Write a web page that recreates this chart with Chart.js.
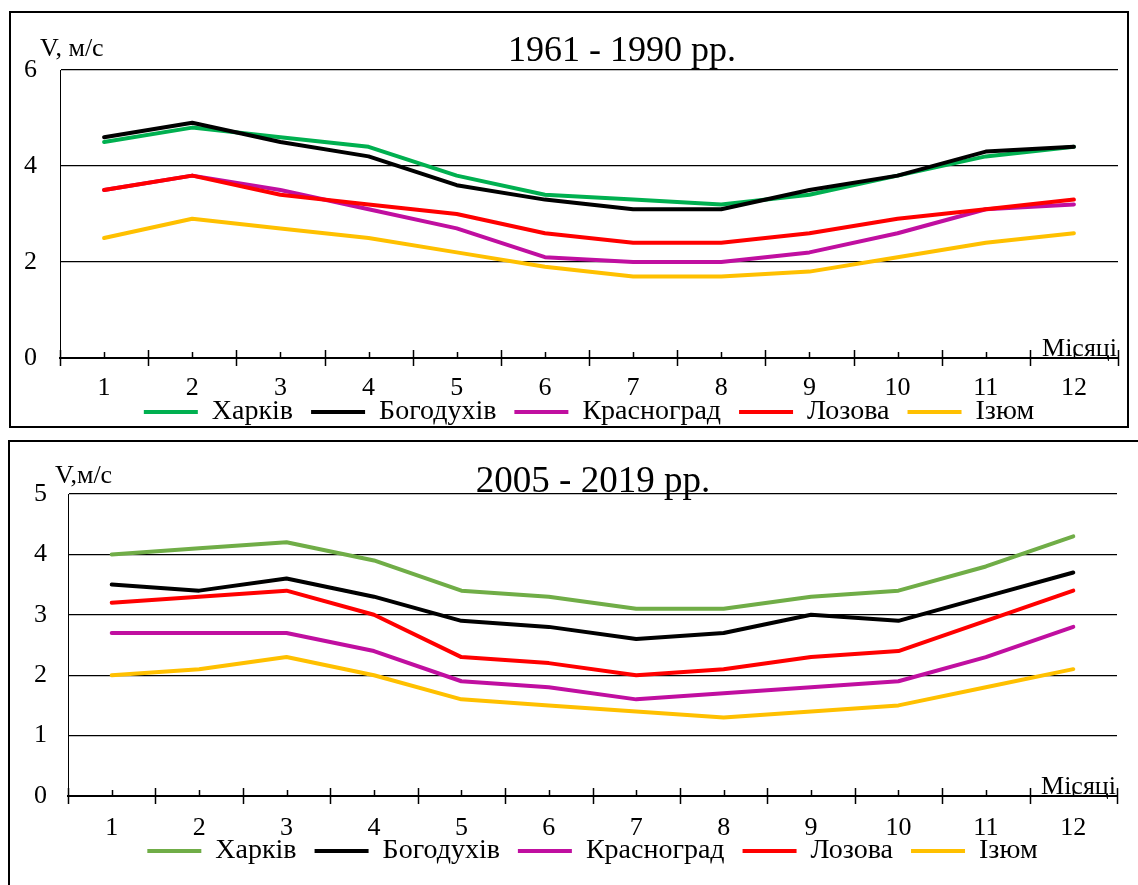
<!DOCTYPE html>
<html>
<head>
<meta charset="utf-8">
<script src="https://cdn.jsdelivr.net/npm/chart.js@4.4.1/dist/chart.umd.min.js"></script>
<style>
html, body { margin: 0; padding: 0; background: #fff; overflow: hidden; width: 1138px; height: 885px; }
.frame { position: absolute; border: 2px solid #000; box-sizing: border-box; }
.box { position: absolute; left: 0; width: 1138px; }
</style>
</head>
<body>
<div class="frame" style="left:9px;top:11px;width:1120px;height:417px"></div>
<div class="frame" style="left:8px;top:440px;width:1140px;height:460px"></div>
<div class="box" style="top:0;height:436px"><canvas id="chartTop"></canvas></div>
<div class="box" style="top:436px;height:449px"><canvas id="chartBottom"></canvas></div>
<script>
const months = ['1', '2', '3', '4', '5', '6', '7', '8', '9', '10', '11', '12'];
const stations = ['Харків', 'Богодухів', 'Красноград', 'Лозова', 'Ізюм'];

// 1961 - 1990
const kharkiv1 = [4.5, 4.8, 4.6, 4.4, 3.8, 3.4, 3.3, 3.2, 3.4, 3.8, 4.2, 4.4];
const bohodukhiv1 = [4.6, 4.9, 4.5, 4.2, 3.6, 3.3, 3.1, 3.1, 3.5, 3.8, 4.3, 4.4];
const krasnohrad1 = [3.5, 3.8, 3.5, 3.1, 2.7, 2.1, 2.0, 2.0, 2.2, 2.6, 3.1, 3.2];
const lozova1 = [3.5, 3.8, 3.4, 3.2, 3.0, 2.6, 2.4, 2.4, 2.6, 2.9, 3.1, 3.3];
const izium1 = [2.5, 2.9, 2.7, 2.5, 2.2, 1.9, 1.7, 1.7, 1.8, 2.1, 2.4, 2.6];

// 2005 - 2019
const kharkiv2 = [4.0, 4.1, 4.2, 3.9, 3.4, 3.3, 3.1, 3.1, 3.3, 3.4, 3.8, 4.3];
const bohodukhiv2 = [3.5, 3.4, 3.6, 3.3, 2.9, 2.8, 2.6, 2.7, 3.0, 2.9, 3.3, 3.7];
const krasnohrad2 = [2.7, 2.7, 2.7, 2.4, 1.9, 1.8, 1.6, 1.7, 1.8, 1.9, 2.3, 2.8];
const lozova2 = [3.2, 3.3, 3.4, 3.0, 2.3, 2.2, 2.0, 2.1, 2.3, 2.4, 2.9, 3.4];
const izium2 = [2.0, 2.1, 2.3, 2.0, 1.6, 1.5, 1.4, 1.3, 1.4, 1.5, 1.8, 2.1];

const FONT = '"Liberation Serif", "Times New Roman", serif';

// tick marks on the month axis, titles and axis captions
const decor = {
    id: 'decor',
    afterDraw(chart, args, o) {
        const ctx = chart.ctx;
        const a = chart.chartArea;
        const x = chart.scales.x;
        const n = x.ticks.length;
        const w = (x.right - x.left) / n;
        ctx.save();
        ctx.strokeStyle = '#000';
        ctx.lineWidth = 1.5;
        ctx.beginPath();
        for (let i = 0; i <= n; i++) {
            const px = Math.round(x.left + i * w) + 0.5;
            ctx.moveTo(px, a.bottom - 8);
            ctx.lineTo(px, a.bottom + 8);
        }
        for (let i = 0; i < n; i++) {
            const px = Math.round(x.getPixelForTick(i)) + 0.5;
            ctx.moveTo(px, a.bottom - 6);
            ctx.lineTo(px, a.bottom);
        }
        ctx.stroke();

        ctx.fillStyle = '#000';
        ctx.textBaseline = 'alphabetic';
        ctx.font = o.titleSize + 'px ' + FONT;
        ctx.textAlign = 'center';
        ctx.fillText(o.title, o.titleX, o.titleY);
        ctx.font = '26px ' + FONT;
        ctx.textAlign = 'left';
        ctx.fillText(o.unit, o.unitX, o.unitY);
        ctx.textAlign = 'right';
        ctx.fillText('Місяці', a.right - 1, a.bottom - 2);
        ctx.restore();
    }
};

const buildDatasets = (series, colors) => {
    return series.map((data, i) => ({
        label: stations[i],
        data: data,
        borderColor: colors[i],
        backgroundColor: colors[i],
        borderWidth: 4,
        pointRadius: 0,
        tension: 0,
        fill: false,
        borderCapStyle: 'round',
        borderJoinStyle: 'round',
        order: series.length - i
    }));
};

const makeChart = (id, series, colors, cfg) => {
    return new Chart(document.getElementById(id), {
        type: 'line',
        data: {
            labels: months,
            datasets: buildDatasets(series, colors)
        },
        options: {
            responsive: true,
            maintainAspectRatio: false,
            animation: false,
            events: [],
            layout: { padding: cfg.padding },
            scales: {
                x: {
                    offset: true,
                    afterFit: (s) => { s.height = cfg.xHeight; },
                    grid: { display: true, drawOnChartArea: false, drawTicks: false },
                    border: { display: true, color: '#000', width: 2 },
                    ticks: { color: '#000', padding: cfg.xPad, font: { family: FONT, size: 26 } }
                },
                y: {
                    min: 0,
                    max: cfg.yMax,
                    afterFit: (s) => { s.width = cfg.yWidth; },
                    grid: { color: '#000', lineWidth: 1.3, drawTicks: false },
                    border: { display: true, color: '#000', width: 1 },
                    ticks: { stepSize: cfg.yStep, color: '#000', padding: cfg.yPad, font: { family: FONT, size: 26 } }
                }
            },
            plugins: {
                tooltip: { enabled: false },
                legend: {
                    position: 'bottom',
                    fullSize: false,
                    // empty title with negative padding pulls the legend row up under the month labels
                    title: { display: true, text: '', font: { size: 1, lineHeight: 1 }, padding: { top: -(cfg.legendLift + 1), bottom: 0 } },
                    labels: {
                        color: '#000',
                        font: { family: FONT, size: 28 },
                        boxWidth: 54,
                        boxHeight: 4,
                        padding: 18,
                        sort: (a, b) => a.datasetIndex - b.datasetIndex,
                        generateLabels: (chart) => {
                            const items = Chart.defaults.plugins.legend.labels.generateLabels(chart);
                            items.forEach(it => { it.lineWidth = 0; });
                            return items;
                        }
                    }
                },
                decor: cfg.decor
            }
        },
        plugins: [decor]
    });
};

makeChart('chartTop',
    [kharkiv1, bohodukhiv1, krasnohrad1, lozova1, izium1],
    ['#00B050', '#000000', '#C00FA0', '#FF0000', '#FFC000'],
    {
        padding: { top: 70, left: 0, right: 20, bottom: 0 },
        xHeight: 41, xPad: 15, yWidth: 60, yPad: 23, yMax: 6, yStep: 2, legendLift: 19,
        decor: { title: '1961 - 1990 рр.', titleSize: 36, titleX: 622, titleY: 61, unit: 'V, м/с', unitX: 40, unitY: 56 }
    });

makeChart('chartBottom',
    [kharkiv2, bohodukhiv2, krasnohrad2, lozova2, izium2],
    ['#70AD47', '#000000', '#C00FA0', '#FF0000', '#FFC000'],
    {
        padding: { top: 58, left: 0, right: 21, bottom: 10 },
        xHeight: 42, xPad: 17, yWidth: 68, yPad: 21, yMax: 5, yStep: 1, legendLift: 19,
        decor: { title: '2005 - 2019 рр.', titleSize: 37, titleX: 593, titleY: 56, unit: 'V,м/с', unitX: 55, unitY: 47 }
    });
</script>
</body>
</html>
